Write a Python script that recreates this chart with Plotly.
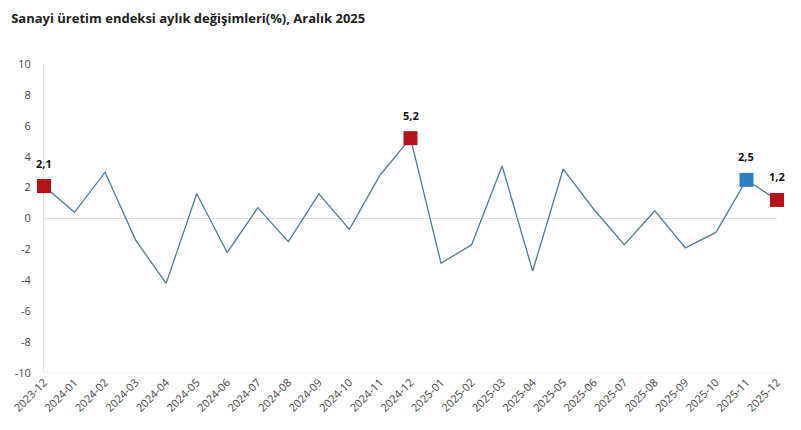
import plotly.graph_objects as go

# Aylık değişim (%)
aylar = ["2023-12", "2024-01", "2024-02", "2024-03", "2024-04", "2024-05", "2024-06",
         "2024-07", "2024-08", "2024-09", "2024-10", "2024-11", "2024-12",
         "2025-01", "2025-02", "2025-03", "2025-04", "2025-05", "2025-06",
         "2025-07", "2025-08", "2025-09", "2025-10", "2025-11", "2025-12"]
degisim = [2.1, 0.4, 3.0, -1.4, -4.2, 1.6, -2.2, 0.7, -1.5, 1.6, -0.7, 2.8, 5.2,
           -2.9, -1.7, 3.4, -3.4, 3.2, 0.6, -1.7, 0.5, -1.9, -0.9, 2.5, 1.2]

# vurgulanan noktalar
kirmizi_aylar = ["2023-12", "2024-12", "2025-12"]
mavi_aylar = ["2025-11"]

y_ticks = [-10, -8, -6, -4, -2, 0, 2, 4, 6, 8, 10]
y_ticktext = [str(v) for v in y_ticks]

deger = dict(zip(aylar, degisim))


def etiket(v):
    return f"{v:.1f}".replace(".", ",")


fig = go.Figure()

fig.add_trace(go.Scatter(
    x=aylar, y=degisim, mode="lines",
    line=dict(color="#4f7d97", width=1.3),
    hoverinfo="x+y", cliponaxis=False
))

fig.add_trace(go.Scatter(
    x=kirmizi_aylar, y=[deger[a] for a in kirmizi_aylar], mode="markers",
    marker=dict(symbol="square", size=14, color="#b5121b"),
    cliponaxis=False
))
fig.add_trace(go.Scatter(
    x=mavi_aylar, y=[deger[a] for a in mavi_aylar], mode="markers",
    marker=dict(symbol="square", size=14, color="#2f7fc1"),
    cliponaxis=False
))

for a in kirmizi_aylar + mavi_aylar:
    fig.add_annotation(
        x=a, y=deger[a], text=f"<b>{etiket(deger[a])}</b>",
        showarrow=False, yshift=23,
        font=dict(size=11, color="#111111")
    )

# sayfa gövdesinin 8px kenar boşluğu hesaba katıldı
fig.update_layout(
    width=793, height=422,
    margin=dict(l=36, r=24, t=56, b=57),
    paper_bgcolor="white", plot_bgcolor="white",
    showlegend=False,
    font=dict(family="Open Sans", size=11, color="#444444"),
    title=dict(
        text="<b>Sanayi üretim endeksi aylık değişimleri(%), Aralık 2025</b>",
        x=0.004, xanchor="left", y=0.986, yanchor="top",
        font=dict(size=13, color="#222222")
    )
)

fig.update_xaxes(
    type="category", range=[0, len(aylar) - 1], automargin=False,
    tickangle=-45, showgrid=False, zeroline=False, layer="below traces",
    showline=False, ticks="", tickfont=dict(size=11, color="#444444")
)
fig.update_yaxes(
    range=[-10, 10], tickvals=y_ticks, ticktext=y_ticktext, automargin=False,
    showgrid=False, zeroline=True, zerolinecolor="#e0e0e0", zerolinewidth=1,
    showline=True, linecolor="#e3e3e3", linewidth=1, mirror=False,
    layer="below traces",
    ticks="", ticklabelstandoff=10, tickfont=dict(size=11, color="#444444")
)

# alt eksen çizgisi (-10)
fig.add_shape(type="line", xref="paper", yref="y", x0=0, x1=1, y0=-10, y1=-10,
              line=dict(color="#e3e3e3", width=1), layer="below")

fig.write_html("out.html")
